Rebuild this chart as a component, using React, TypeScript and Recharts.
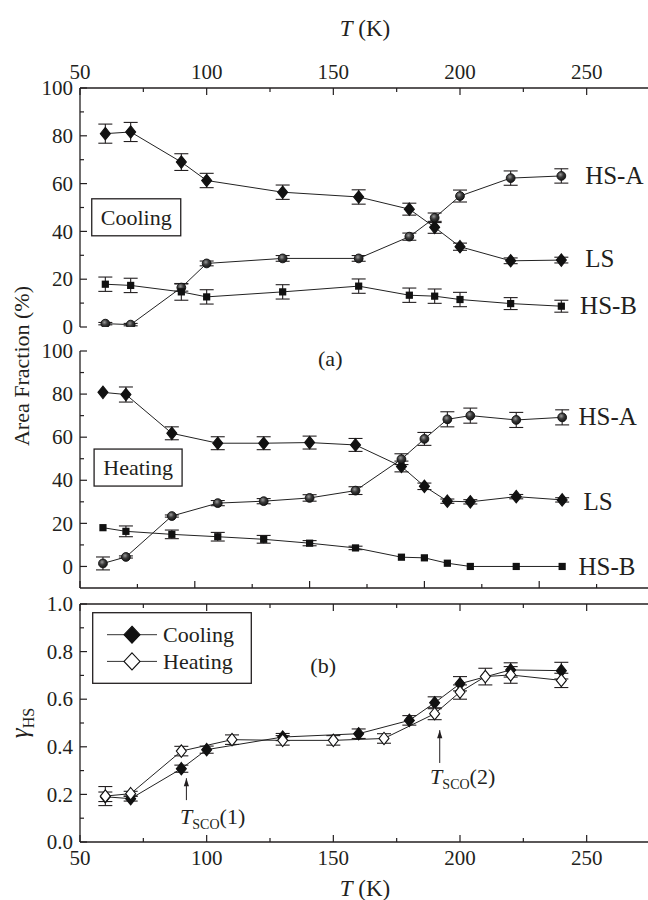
import React from 'react';
import { LineChart, Line, XAxis, YAxis, ErrorBar, ReferenceDot, ReferenceLine, Legend } from 'recharts';

const FONT = '"Liberation Serif", "Times New Roman", Times, serif';
const INK = '#231f20';
const LINE = '#222';

// ---------- (a) Cooling: area fractions (%) ----------
const coolT = [60, 70, 90, 100, 130, 160, 180, 190, 200, 220, 240];
const coolLS = [80.9, 81.6, 69.0, 61.3, 56.4, 54.4, 49.3, 41.7, 33.6, 27.7, 28.0];
const coolLSErr = [4, 4, 3.5, 3, 3, 3, 2.5, 2.5, 1.5, 1.2, 1.2];
const coolHSA = [1.4, 1.0, 16.5, 26.6, 28.7, 28.7, 37.8, 45.7, 54.8, 62.3, 63.2];
const coolHSAErr = [0.5, 0.5, 1.5, 1, 1.2, 1.2, 1.5, 2, 2.5, 3, 3];
const coolHSB = [17.9, 17.4, 14.7, 12.6, 14.7, 17.1, 13.3, 12.9, 11.5, 9.8, 8.7];
const coolHSBErr = [3, 3, 3.5, 3, 3, 3, 3, 3, 3, 2.5, 2.5];

// ---------- (a) Heating: area fractions (%) ----------
const heatT = [60, 70, 90, 110, 130, 150, 170, 190, 200, 210, 220, 240, 260];
const heatLS = [80.8, 79.8, 61.8, 57.2, 57.2, 57.5, 56.4, 46.4, 37.2, 30.3, 30.0, 32.4, 30.9];
const heatLSErr = [0, 3.5, 3, 3, 3, 3, 3, 2.5, 1.5, 1, 1, 1, 1];
const heatHSA = [1.4, 4.4, 23.4, 29.4, 30.3, 31.8, 35.2, 49.8, 59.2, 68.3, 70.0, 68.0, 69.2];
const heatHSAErr = [3, 0.5, 0.5, 1.2, 1.2, 1.5, 1.8, 2.5, 3, 3.5, 3.5, 3.5, 3.5];
const heatHSB = [18.0, 16.3, 14.9, 13.8, 12.6, 10.8, 8.6, 4.3, 4.0, 1.5, 0, 0, 0];
const heatHSBErr = [0, 2.5, 2, 2, 1.8, 1.2, 0.8, 0, 0, 0, 0, 0, 0];

// ---------- (b) gamma_HS ----------
const gammaCoolT = [60, 70, 90, 100, 130, 160, 180, 190, 200, 220, 240];
const gammaCool = [0.19, 0.182, 0.308, 0.388, 0.441, 0.455, 0.511, 0.585, 0.665, 0.723, 0.72];
const gammaCoolErr = [0.02, 0.01, 0.015, 0.015, 0.015, 0.02, 0.02, 0.025, 0.03, 0.03, 0.035];
const gammaHeatT = [60, 70, 90, 110, 130, 150, 170, 190, 200, 210, 220, 240];
const gammaHeat = [0.193, 0.203, 0.382, 0.43, 0.427, 0.427, 0.435, 0.539, 0.63, 0.695, 0.702, 0.679];
const gammaHeatErr = [0.04, 0.01, 0.02, 0.02, 0.02, 0.02, 0.02, 0.025, 0.03, 0.035, 0.035, 0.03];

// ---------- ticks / names ----------
const tempTicks = [50, 75, 100, 125, 150, 175, 200, 225, 250, 275];
const tempTicksWide = [50, 75, 100, 125, 150, 175, 200, 225, 250, 275, 300];
const tempMajor = [50, 100, 150, 200, 250, 300];
const fracTicks = [0, 10, 20, 30, 40, 50, 60, 70, 80, 90, 100];
const fracMajor = [0, 20, 40, 60, 80, 100];
const gammaTicks = [0, 0.1, 0.2, 0.3, 0.4, 0.5, 0.6, 0.7, 0.8, 0.9, 1.0];
const gammaMajor = [0, 0.2, 0.4, 0.6, 0.8, 1.0];
const seriesNames = ['LS', 'HS-A', 'HS-B'];
const modeNames = ['Cooling', 'Heating'];

const pts = (xs: number[], ys: number[], es: number[]) => xs.map((x, i) => ({ x, y: ys[i], e: es[i] }));

// ---------- marks ----------
const Diamond = ({ cx, cy, open = false, hw = 5, hh = 6.2 }: any) => (
  <path
    d={`M${cx},${cy - hh}L${cx + hw},${cy}L${cx},${cy + hh}L${cx - hw},${cy}Z`}
    fill={open ? '#fff' : '#111'}
    stroke="#111"
    strokeWidth={1.1}
  />
);

const dotOf = (kind: string, grad = '') => (p: any) => {
  const k = `${kind}-${p.index}`;
  if (p.cx == null || p.cy == null) return <g key={k} />;
  if (kind === 'diamond') return <Diamond key={k} cx={p.cx} cy={p.cy} />;
  if (kind === 'open') return <Diamond key={k} cx={p.cx} cy={p.cy} open />;
  if (kind === 'ball')
    return <circle key={k} cx={p.cx} cy={p.cy} r={4.4} fill={`url(#${grad})`} stroke="#111" strokeWidth={0.9} />;
  return <rect key={k} x={p.cx - 3.6} y={p.cy - 3.6} width={7.2} height={7.2} fill="#111" />;
};

// ---------- ticks ----------
const TM = 4;
const tickFactory = (orient: string, majors: number[], fmt: (v: number) => string, showLabel = true) => (p: any) => {
  const v = p.payload.value;
  const major = majors.some((m) => Math.abs(m - v) < 1e-6);
  const len = major ? 7 : 4;
  const style = { fontFamily: FONT, fontSize: 21, fill: INK };
  if (orient === 'left') {
    const ax = p.x + TM;
    return (
      <g>
        <line x1={ax} x2={ax + len} y1={p.y} y2={p.y} stroke={INK} strokeWidth={1.2} />
        {major && showLabel && (
          <text x={ax - 7} y={p.y} dy="0.34em" textAnchor="end" {...style}>{fmt(v)}</text>
        )}
      </g>
    );
  }
  if (orient === 'top') {
    const ay = p.y + TM;
    return (
      <g>
        <line x1={p.x} x2={p.x} y1={ay} y2={ay + len} stroke={INK} strokeWidth={1.2} />
        {major && showLabel && (
          <text x={p.x} y={ay - 16} dy="0.34em" textAnchor="middle" {...style}>{fmt(v)}</text>
        )}
      </g>
    );
  }
  const ay = p.y - TM;
  return (
    <g>
      <line x1={p.x} x2={p.x} y1={ay} y2={ay - len} stroke={INK} strokeWidth={1.2} />
      {major && showLabel && (
        <text x={p.x} y={ay + 16} dy="0.34em" textAnchor="middle" {...style}>{fmt(v)}</text>
      )}
    </g>
  );
};

const intFmt = (v: number) => String(v);
const decFmt = (v: number) => v.toFixed(1);
const axisLineStyle = { stroke: INK, strokeWidth: 1.3 };

// ---------- text helpers ----------
const TextAt = (txt: string, size = 25, anchor: any = 'start') => (p: any) => (
  <text x={p.cx} y={p.cy} dy="0.35em" textAnchor={anchor} fontFamily={FONT} fontSize={size} fill={INK}>{txt}</text>
);
const BoxText = (txt: string, w: number) => (p: any) => (
  <g>
    <rect x={p.cx - w / 2} y={p.cy - 18.5} width={w} height={37} fill="#fff" stroke={INK} strokeWidth={1.3} />
    <text x={p.cx} y={p.cy} dy="0.35em" textAnchor="middle" fontFamily={FONT} fontSize={22} fill={INK}>{txt}</text>
  </g>
);
const TscoText = (n: string) => (p: any) => (
  <text x={p.cx} y={p.cy + 7} fontFamily={FONT} fontSize={22} fill={INK}>
    <tspan fontStyle="italic">T</tspan>
    <tspan fontSize={14} dy={5}>SCO</tspan>
    <tspan dy={-5}>({n})</tspan>
  </text>
);
const ArrowHead = (p: any) => (
  <path d={`M${p.cx},${p.cy}L${p.cx - 2.6},${p.cy + 8}L${p.cx + 2.6},${p.cy + 8}Z`} fill={INK} />
);

const TitleT = (dyOff: number) => (p: any) => {
  const vb = p.viewBox || {};
  const cx = vb.x + vb.width / 2;
  const cy = vb.y + dyOff;
  return (
    <text x={cx} y={cy} dy="0.35em" textAnchor="middle" fontFamily={FONT} fontSize={23} fill={INK}>
      <tspan fontStyle="italic">T</tspan>
      <tspan> (K)</tspan>
    </text>
  );
};
const GammaLabel = (p: any) => {
  const vb = p.viewBox || {};
  const cx = 22;
  const cy = vb.y + vb.height / 2;
  return (
    <text x={cx} y={cy} dy="0.35em" textAnchor="middle" transform={`rotate(-90 ${cx} ${cy})`} fontFamily={FONT} fill={INK}>
      <tspan fontStyle="italic" fontSize={25}>γ</tspan>
      <tspan fontSize={16} dy={6}>HS</tspan>
    </text>
  );
};

const LegendBox = (props: any) => {
  const payload = props.payload && props.payload.length ? props.payload.map((e: any) => e.value) : modeNames;
  return (
    <svg width={160} height={72} style={{ display: 'block' }}>
      <rect x={0.7} y={0.7} width={158.6} height={70.6} fill="#fff" stroke={INK} strokeWidth={1.3} />
      {payload.map((name: string, i: number) => {
        const y = 22.7 + i * 26.7;
        return (
          <g key={name}>
            <line x1={15} x2={65} y1={y} y2={y} stroke="#333" strokeWidth={1} />
            <Diamond cx={40} cy={y} open={name === modeNames[1]} hw={8} hh={8.5} />
            <text x={71} y={y} dy="0.35em" fontFamily={FONT} fontSize={22} fill={INK}>{name}</text>
          </g>
        );
      })}
    </svg>
  );
};

const BallGrad = ({ id }: { id: string }) => (
  <defs>
    <radialGradient id={id} cx="40%" cy="35%" r="70%">
      <stop offset="0%" stopColor="#9a9a9a" />
      <stop offset="45%" stopColor="#3a3a3a" />
      <stop offset="100%" stopColor="#111" />
    </radialGradient>
  </defs>
);

export default function App() {
  return (
    <div style={{ position: 'absolute', left: 0, top: 0, width: 648, height: 900, overflow: 'hidden', background: '#fff' }}>
      {/* Cooling panel */}
      <div style={{ position: 'absolute', left: 0, top: 0 }}>
        <LineChart width={660} height={340} margin={{ top: 48, right: 10, bottom: 13, left: 0 }}>
          <BallGrad id="ballA" />
          <XAxis
            type="number" dataKey="x" orientation="top" height={40} domain={[50, 275]} ticks={tempTicks} interval={0}
            tickSize={0} tickMargin={TM} tickLine={false} axisLine={axisLineStyle}
            tick={tickFactory('top', tempMajor, intFmt)} label={TitleT(-20)} allowDataOverflow
          />
          <YAxis
            type="number" width={80} domain={[0, 100]} ticks={fracTicks} interval={0}
            tickSize={0} tickMargin={TM} tickLine={false} axisLine={axisLineStyle}
            tick={tickFactory('left', fracMajor, intFmt)} allowDataOverflow
          />
          <Line data={pts(coolT, coolLS, coolLSErr)} dataKey="y" name={seriesNames[0]} type="linear" stroke={LINE} strokeWidth={1} dot={dotOf('diamond')} isAnimationActive={false}>
            <ErrorBar dataKey="e" direction="y" width={7} stroke={INK} strokeWidth={1.1} />
          </Line>
          <Line data={pts(coolT, coolHSA, coolHSAErr)} dataKey="y" name={seriesNames[1]} type="linear" stroke={LINE} strokeWidth={1} dot={dotOf('ball', 'ballA')} isAnimationActive={false}>
            <ErrorBar dataKey="e" direction="y" width={7} stroke={INK} strokeWidth={1.1} />
          </Line>
          <Line data={pts(coolT, coolHSB, coolHSBErr)} dataKey="y" name={seriesNames[2]} type="linear" stroke={LINE} strokeWidth={1} dot={dotOf('square')} isAnimationActive={false}>
            <ErrorBar dataKey="e" direction="y" width={7} stroke={INK} strokeWidth={1.1} />
          </Line>
          <ReferenceDot x={72.2} y={45.9} r={0} shape={BoxText(modeNames[0], 89)} />
          <ReferenceDot x={249.4} y={63.6} r={0} shape={TextAt(seriesNames[1])} />
          <ReferenceDot x={249.4} y={28.9} r={0} shape={TextAt(seriesNames[0])} />
          <ReferenceDot x={247.4} y={9.2} r={0} shape={TextAt(seriesNames[2])} />
        </LineChart>
      </div>

      {/* Heating panel */}
      <div style={{ position: 'absolute', left: 0, top: 330 }}>
        <LineChart width={660} height={270} margin={{ top: 21, right: 6, bottom: 2, left: 0 }}>
          <BallGrad id="ballB" />
          <XAxis
            type="number" dataKey="x" orientation="bottom" height={10} domain={[50, 300]} ticks={tempTicksWide} interval={0}
            tickSize={0} tickMargin={TM} tickLine={false} axisLine={axisLineStyle}
            tick={tickFactory('bottom', tempMajor, intFmt, false)} allowDataOverflow
          />
          <YAxis
            type="number" width={80} domain={[-10, 100]} ticks={fracTicks} interval={0}
            tickSize={0} tickMargin={TM} tickLine={false} axisLine={axisLineStyle}
            tick={tickFactory('left', fracMajor, intFmt)} allowDataOverflow
          />
          <Line data={pts(heatT, heatLS, heatLSErr)} dataKey="y" name={seriesNames[0]} type="linear" stroke={LINE} strokeWidth={1} dot={dotOf('diamond')} isAnimationActive={false}>
            <ErrorBar dataKey="e" direction="y" width={7} stroke={INK} strokeWidth={1.1} />
          </Line>
          <Line data={pts(heatT, heatHSA, heatHSAErr)} dataKey="y" name={seriesNames[1]} type="linear" stroke={LINE} strokeWidth={1} dot={dotOf('ball', 'ballB')} isAnimationActive={false}>
            <ErrorBar dataKey="e" direction="y" width={7} stroke={INK} strokeWidth={1.1} />
          </Line>
          <Line data={pts(heatT, heatHSB, heatHSBErr)} dataKey="y" name={seriesNames[2]} type="linear" stroke={LINE} strokeWidth={1} dot={dotOf('square')} isAnimationActive={false}>
            <ErrorBar dataKey="e" direction="y" width={7} stroke={INK} strokeWidth={1.1} />
          </Line>
          <ReferenceDot x={75.3} y={45.9} r={0} shape={BoxText(modeNames[1], 88)} />
          <ReferenceDot x={159} y={96.8} r={0} shape={TextAt('(a)', 22, 'middle')} />
          <ReferenceDot x={267.1} y={69.5} r={0} shape={TextAt(seriesNames[1])} />
          <ReferenceDot x={269.3} y={30.1} r={0} shape={TextAt(seriesNames[0])} />
          <ReferenceDot x={267.1} y={-0.1} r={0} shape={TextAt(seriesNames[2])} />
        </LineChart>
      </div>

      {/* gamma_HS panel */}
      <div style={{ position: 'absolute', left: 0, top: 590 }}>
        <LineChart width={660} height={310} margin={{ top: 0, right: 10, bottom: 0, left: 0 }}>
          <XAxis
            xAxisId="t" type="number" dataKey="x" orientation="top" height={14} domain={[50, 275]} ticks={tempTicks} interval={0}
            tickSize={0} tickMargin={TM} tickLine={false} axisLine={axisLineStyle}
            tick={tickFactory('top', tempMajor, intFmt, false)} allowDataOverflow
          />
          <XAxis
            xAxisId="b" type="number" dataKey="x" orientation="bottom" height={58} domain={[50, 275]} ticks={tempTicks} interval={0}
            tickSize={0} tickMargin={TM} tickLine={false} axisLine={axisLineStyle}
            tick={tickFactory('bottom', tempMajor, intFmt)} label={TitleT(46)} allowDataOverflow
          />
          <YAxis
            type="number" width={80} domain={[0, 1]} ticks={gammaTicks} interval={0}
            tickSize={0} tickMargin={TM} tickLine={false} axisLine={axisLineStyle}
            tick={tickFactory('left', gammaMajor, decFmt)} label={GammaLabel} allowDataOverflow
          />
          <Line xAxisId="b" data={pts(gammaCoolT, gammaCool, gammaCoolErr)} dataKey="y" name={modeNames[0]} type="linear" stroke={LINE} strokeWidth={1} dot={dotOf('diamond')} isAnimationActive={false}>
            <ErrorBar dataKey="e" direction="y" width={7} stroke={INK} strokeWidth={1.1} />
          </Line>
          <Line xAxisId="b" data={pts(gammaHeatT, gammaHeat, gammaHeatErr)} dataKey="y" name={modeNames[1]} type="linear" stroke={LINE} strokeWidth={1} dot={dotOf('open')} isAnimationActive={false}>
            <ErrorBar dataKey="e" direction="y" width={7} stroke={INK} strokeWidth={1.1} />
          </Line>
          <Legend
            layout="horizontal" verticalAlign="middle" align="center" content={LegendBox}
            wrapperStyle={{ left: 92, top: 22, width: 160, height: 72 }}
          />
          <ReferenceDot xAxisId="b" x={146} y={0.743} r={0} shape={TextAt('(b)', 22, 'middle')} />
          <ReferenceLine xAxisId="b" segment={[{ x: 92, y: 0.176 }, { x: 92, y: 0.268 }]} stroke={INK} strokeWidth={1} />
          <ReferenceDot xAxisId="b" x={92} y={0.268} r={0} shape={ArrowHead} />
          <ReferenceDot xAxisId="b" x={89.5} y={0.104} r={0} shape={TscoText('1')} />
          <ReferenceLine xAxisId="b" segment={[{ x: 192, y: 0.332 }, { x: 192, y: 0.47 }]} stroke={INK} strokeWidth={1} />
          <ReferenceDot xAxisId="b" x={192} y={0.47} r={0} shape={ArrowHead} />
          <ReferenceDot xAxisId="b" x={188.2} y={0.272} r={0} shape={TscoText('2')} />
        </LineChart>
      </div>

      <div
        style={{
          position: 'absolute', left: 22, top: 366, transform: 'translate(-50%, -50%) rotate(-90deg)',
          whiteSpace: 'nowrap', fontFamily: FONT, fontSize: 22, color: INK, lineHeight: 1,
        }}
      >
        Area Fraction (%)
      </div>
    </div>
  );
}
